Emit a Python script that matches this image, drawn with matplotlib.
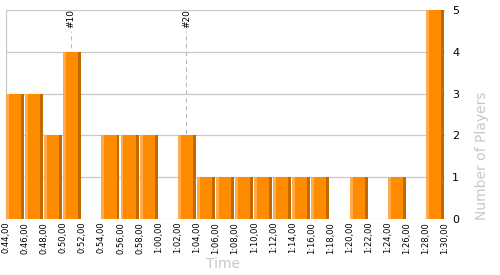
import numpy as np
import matplotlib.pyplot as plt

# bin edges in seconds (0:44 .. 1:30, step 2 s)
edges = np.arange(44, 92, 2)
tick_labels = ["%d:%02d,00" % (s // 60, s % 60) for s in edges]
players = [3, 3, 2, 4, 0, 2, 2, 2, 0, 2, 1, 1, 1, 1, 1, 1, 1, 0, 1, 0, 1, 0, 5]

# player rank markers
marker_names = ["#10", "#20"]
marker_times = [50.8, 62.9]

main_c = "#ff8c00"
light_c = "#ffaa4c"
dark_c = "#c26a00"
grid_c = "#c8c8c8"

fig = plt.figure(figsize=(5, 2.75), dpi=100)
ax = fig.add_axes([0.012, 0.2036, 0.878, 0.76])

left = edges[:-1]
bw = 1.89
stripe = 0.31
ax.bar(left, players, width=bw, align="edge", color=main_c, zorder=3)
ax.bar(left, players, width=stripe, align="edge", color=light_c, zorder=4)
ax.bar(left + bw - stripe, players, width=stripe, align="edge", color=dark_c, zorder=4)

for name, t in zip(marker_names, marker_times):
    ax.plot([t, t], [0, 4.5], color="#bbbbbb", lw=0.8, ls=(0, (4, 3)), zorder=1)
    ax.text(t, 4.57, name, rotation=90, ha="center", va="bottom", fontsize=6.5)

ax.set_xlim(edges[0], edges[-1])
ax.set_ylim(0, 5)
ax.set_xticks(edges)
ax.set_xticklabels(tick_labels, rotation=90, fontsize=6)
ax.set_yticks(range(6))
ax.yaxis.tick_right()
ax.tick_params(axis="both", length=0)
ax.tick_params(axis="x", pad=2)
ax.tick_params(axis="y", pad=5, labelsize=8)

ax.yaxis.grid(True, color=grid_c, lw=0.9, zorder=0)
ax.set_axisbelow(True)
for s in ["top", "right", "bottom"]:
    ax.spines[s].set_visible(False)
ax.spines["left"].set_color(grid_c)
ax.spines["left"].set_linewidth(0.9)

fig.text(0.446, 0.04, "Time", color=grid_c, fontsize=10, ha="center", va="center")
fig.text(0.964, 0.2, "Number of Players", color=grid_c, fontsize=10,
         rotation=90, ha="center", va="bottom")

fig.savefig("out.png", dpi=100)
